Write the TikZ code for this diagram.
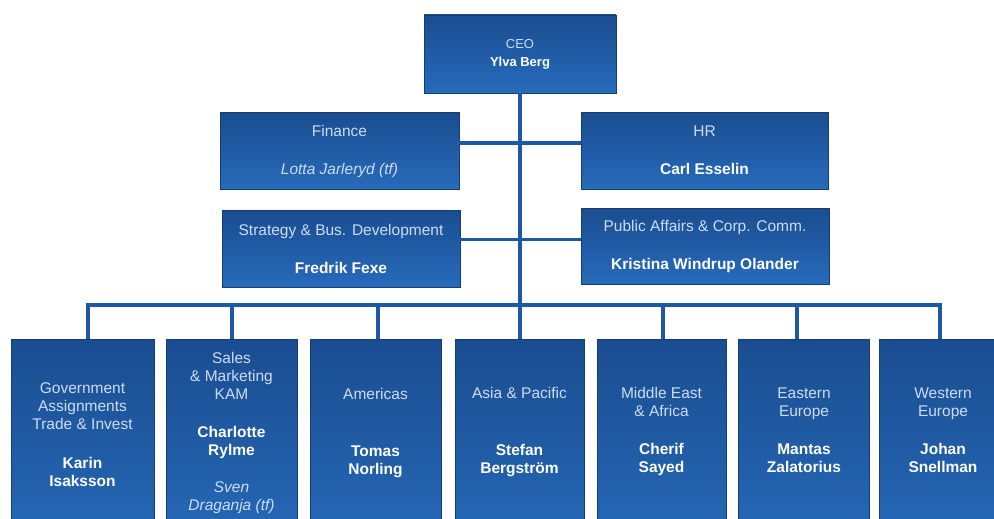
\documentclass[tikz,border=0pt]{standalone}
\usepackage{fontspec}
\setmainfont{Liberation Sans}
\definecolor{conncol}{HTML}{1D57A8}
\definecolor{boxtop}{HTML}{1A4D90}
\definecolor{boxbot}{HTML}{276BBB}
\definecolor{boxedge}{HTML}{163D70}
\definecolor{labc}{HTML}{CBDDF3}
\newcommand\fs{\fontsize{15.5}{18}\selectfont}
\newcommand\nm[1]{{\color{white}\bfseries #1}}
\begin{document}
\begin{tikzpicture}[x=1pt,y=-1pt,
  box/.style={draw=boxedge, line width=0.8pt, top color=boxtop, bottom color=boxbot, inner sep=0pt},
  topbox/.style={box, align=center, text=labc, font=\fs},
  txt/.style={align=center, text=labc, font=\fs, inner sep=0pt, anchor=north},
  conn/.style={draw=conncol, line width=3.6pt}]
\useasboundingbox (0,0) rectangle (994,519);
\clip (0,0) rectangle (994,519);
\fill[white] (0,0) rectangle (994,519);
% top boxes
\node[topbox, minimum width=192, minimum height=78, font=\fontsize{13}{18}\selectfont] (ceo) at (520,54) {CEO\\\nm{Ylva Berg}};
\node[topbox, minimum width=239, minimum height=77] (fin) at (339.5,151) {Finance\\[20pt]\textit{Lotta Jarleryd (tf)}};
\node[topbox, minimum width=247, minimum height=77] (hr) at (704.5,150.5) {HR\\[20pt]\nm{Carl Esselin}};
\node[topbox, minimum width=238, minimum height=77] (str) at (341,248.5) {Strategy \& Bus. Development\\[20pt]\nm{Fredrik Fexe}};
\node[topbox, minimum width=248, minimum height=76] (pub) at (705,246) {Public Affairs \& Corp. Comm.\\[20pt]\nm{Kristina Windrup Olander}};
% bottom boxes
\node[box, minimum width=143, minimum height=221] (b1) at (82.5,449.5) {};
\node[box, minimum width=131, minimum height=221] (b2) at (231.5,449.5) {};
\node[box, minimum width=131, minimum height=221] (b3) at (375.5,449.5) {};
\node[box, minimum width=129, minimum height=221] (b4) at (519.5,449.5) {};
\node[box, minimum width=129, minimum height=221] (b5) at (661.5,449.5) {};
\node[box, minimum width=131, minimum height=221] (b6) at (803.5,449.5) {};
\node[box, minimum width=131, minimum height=221] (b7) at (944.5,449.5) {};
% texts of bottom boxes
\node[txt] (t1) at (82.5,382.3) {Government\\Assignments\\Trade \& Invest\\[21pt]\nm{Karin}\\\nm{Isaksson}};
\node[txt] (t2) at (231.5,352.3) {Sales\\\& Marketing\\KAM\\[20pt]\nm{Charlotte}\\\nm{Rylme}\\[19pt]\textit{Sven}\\\textit{Draganja (tf)}};
\node[txt] (t3) at (375.5,388.3) {Americas\\[39pt]\nm{Tomas}\\\nm{Norling}};
\node[txt] (t4) at (519.5,387.3) {Asia \& Pacific\\[39pt]\nm{Stefan}\\\nm{Bergström}};
\node[txt] (t5) at (661.5,387.3) {Middle East\\\& Africa\\[20pt]\nm{Cherif}\\\nm{Sayed}};
\node[txt] (t6) at (804,387.3) {Eastern\\Europe\\[20pt]\nm{Mantas}\\\nm{Zalatorius}};
\node[txt] (t7) at (943,387.3) {Western\\Europe\\[20pt]\nm{Johan}\\\nm{Snellman}};
% connectors
\coordinate (bus) at (520,305);
\draw[conn] (ceo.south) -- (ceo.south |- bus);
\draw[conn] ([yshift=8pt]fin.east) -- ([yshift=8pt]fin.east -| hr.west);
\draw[conn] ([yshift=9pt]str.east) -- ([yshift=9pt]str.east -| pub.west);
\draw[conn] ([xshift=5.5pt]b1.north) |- (bus) -| ([xshift=-4.5pt]b7.north);
\foreach \b/\dx in {b2/0.5, b3/2.5, b4/0.5, b5/1.5, b6/-6.5}
  \draw[conn] ([xshift=\dx pt]\b.north) -- ([xshift=\dx pt]\b.north |- bus);
\end{tikzpicture}
\end{document}
